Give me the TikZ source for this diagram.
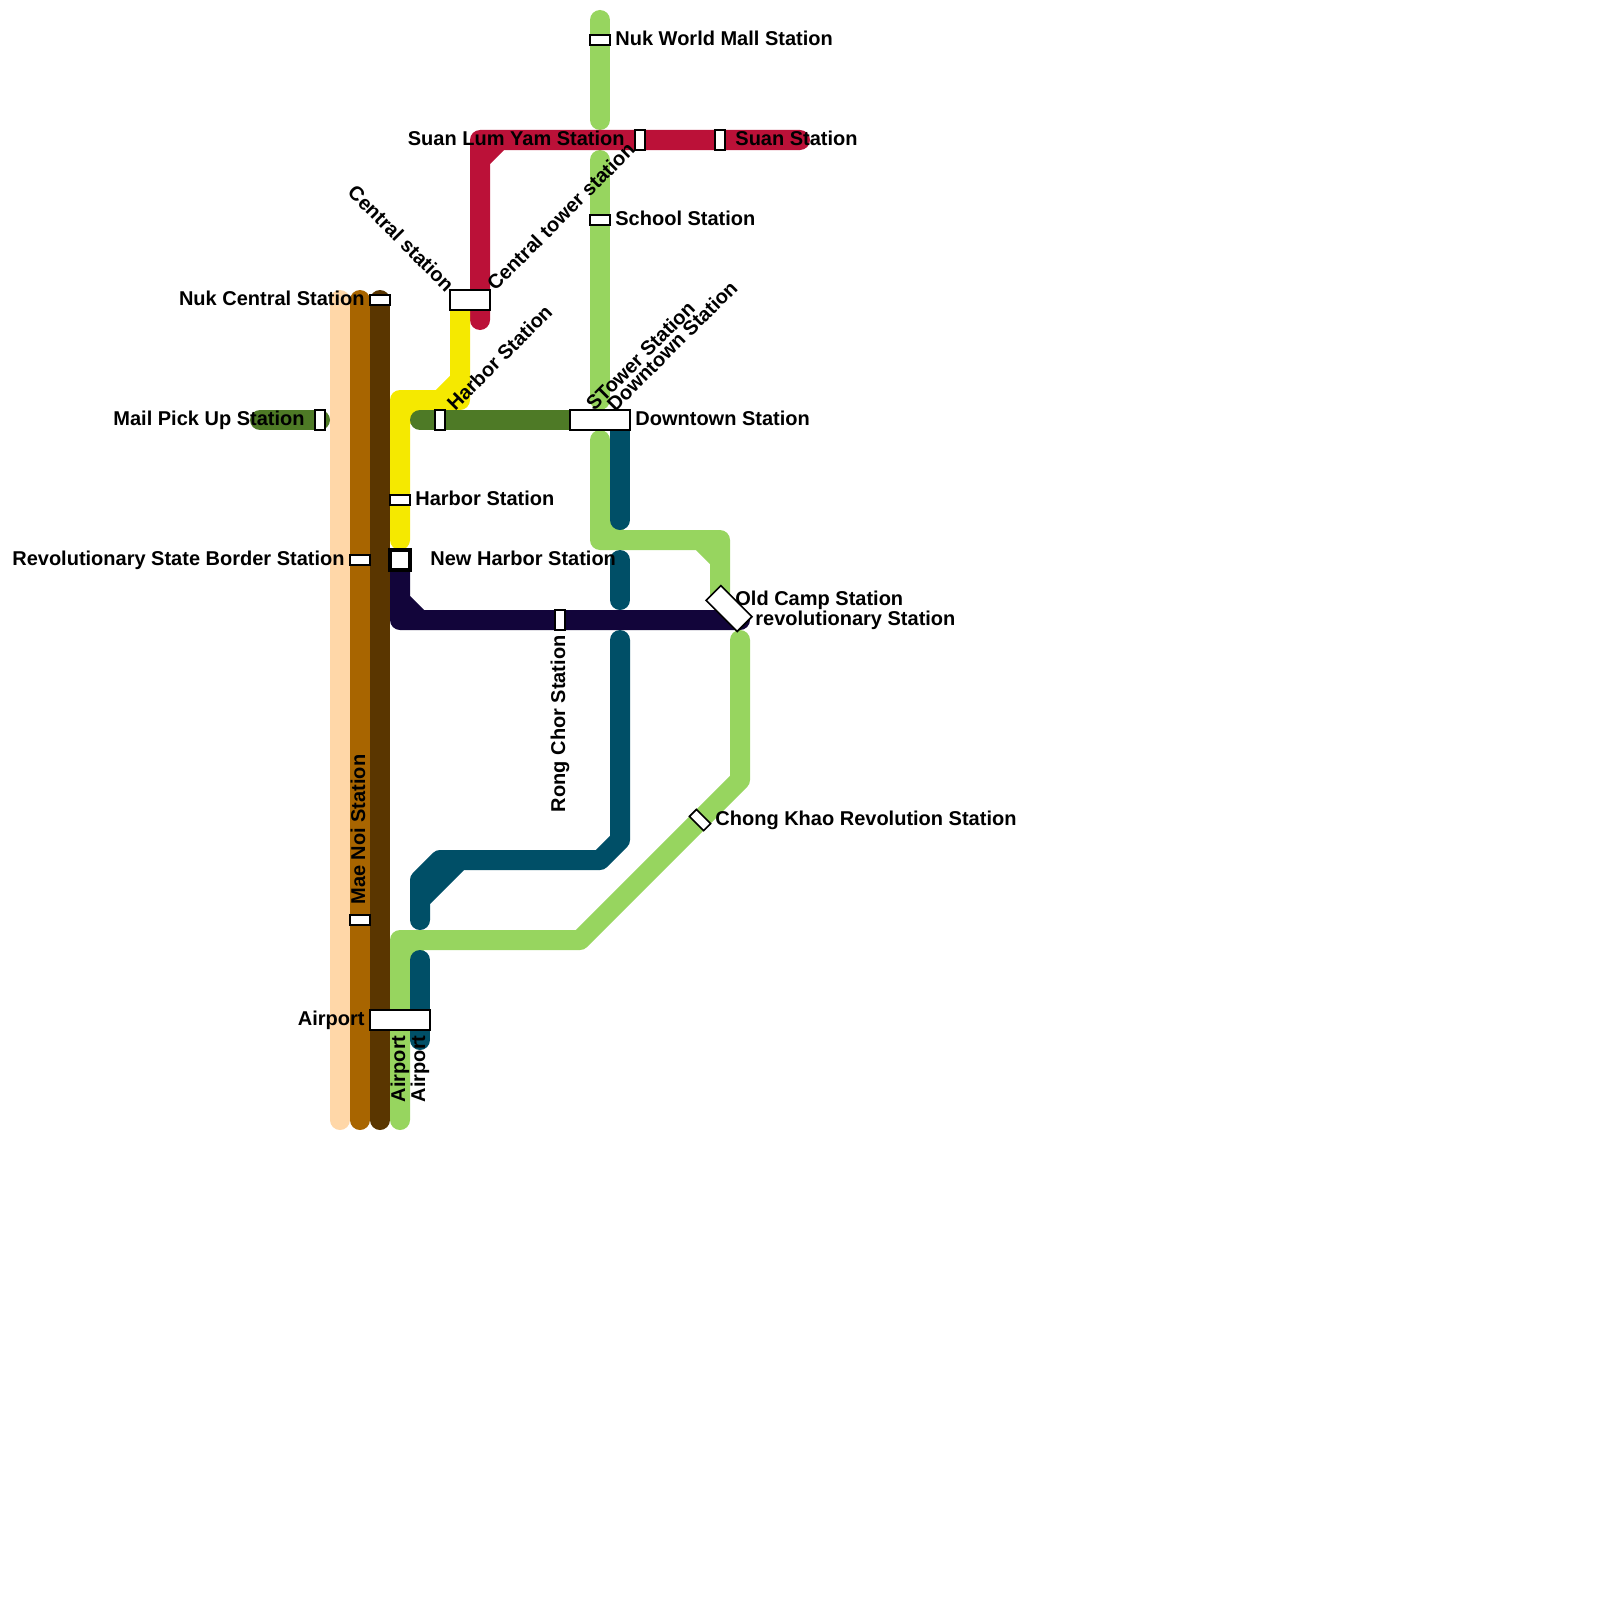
\documentclass[tikz,border=0pt]{standalone}
\usepackage{fontspec}
\usepackage{xcolor}
\usepackage{tikz}
\setmainfont{Liberation Sans}
\definecolor{linePeach}{HTML}{FFD7A8}
\definecolor{lineBrown}{HTML}{A86500}
\definecolor{lineUmber}{HTML}{5A3600}
\definecolor{lineLeaf}{HTML}{97D55F}
\definecolor{lineCrimson}{HTML}{BB1138}
\definecolor{lineMoss}{HTML}{4E7A26}
\definecolor{lineTeal}{HTML}{004F67}
\definecolor{lineYellow}{HTML}{F5E900}
\definecolor{lineNavy}{HTML}{12053A}
\tikzset{
  metroline/.style={line width=10pt, line cap=round, line join=round},
  stopbox/.style={rectangle, draw=black, fill=white, line width=.8pt,
    inner sep=0pt},
  stopflat/.style={stopbox, minimum width=10pt, minimum height=5pt},
  stoptall/.style={stopbox, minimum width=5pt, minimum height=10pt},
  stopwide/.style={stopbox, minimum width=20pt, minimum height=10pt},
  stoplong/.style={stopbox, minimum width=30pt, minimum height=10pt},
  stoplabel/.style={font=\bfseries\fontsize{10pt}{12pt}\selectfont,
    text=black, inner sep=0pt, text height=7.2pt, text depth=0pt},
}
\begin{document}
\begin{tikzpicture}[x=.5pt,y=-.5pt]
  \path[use as bounding box] (0,0) rectangle (1600,1600);

  % Three trunk lines running side by side.
  \foreach \x/\c in {340/linePeach,360/lineBrown,380/lineUmber}
    \draw[metroline,\c] (\x,300)--(\x,1120);

  % Leaf line, in four pieces.
  \draw[metroline,lineLeaf] (600,20)--(600,120);
  \draw[metroline,lineLeaf] (600,160)--(600,400);
  \draw[metroline,lineLeaf] (600,440)--(600,540)--(720,540)--(720,600)
    (600,520)--(620,540) (700,540)--(720,560);
  \draw[metroline,lineLeaf] (400,1120)--(400,940)--(580,940)--(740,780)--(740,640)
    (400,960)--(420,940);

  % Crimson and yellow lines meet at the central stop.
  \draw[metroline,lineCrimson] (480,320)--(480,140)--(800,140)
    (480,160)--(500,140);
  \draw[metroline,lineYellow] (460,300)--(460,400)--(400,400)--(400,540)
    (460,380)--(440,400) (420,400)--(400,420);

  % Moss line is broken by the trunk lines.
  \draw[metroline,lineMoss] (260,420)--(320,420);
  \draw[metroline,lineMoss] (420,420)--(600,420);

  % Navy line.
  \draw[metroline,lineNavy] (400,560)--(400,620)--(740,620)
    (400,600)--(420,620);

  % Teal line, cut where it passes under the others.
  \draw[metroline,lineTeal] (620,420)--(620,520);
  \draw[metroline,lineTeal] (620,560)--(620,600);
  \draw[metroline,lineTeal] (620,640)--(620,840)--(600,860)--(440,860)
    --(420,880)--(420,920) (420,900)--(460,860);
  \draw[metroline,lineTeal] (420,960)--(420,1040);

  % Stops.
  \node[stopflat] (nukWorld) at (600,40) {};
  \node[stoptall] (suanLum) at (640,140) {};
  \node[stoptall] (suan) at (720,140) {};
  \node[stopflat] (school) at (600,220) {};
  \node[stopwide] (central) at (470,300) {};
  \node[stopflat] (nukCentral) at (380,300) {};
  \node[stoptall] (mailPick) at (320,420) {};
  \node[stoptall] (harborTop) at (440,420) {};
  \node[stoplong] (downtown) at (600,420) {};
  \node[stopflat] (harbor) at (400,500) {};
  \node[stopbox,line width=1.75pt,minimum size=10pt] (newHarbor) at (400,560) {};
  \node[stopflat] (border) at (360,560) {};
  \node[stoptall] (rongChor) at (560,620) {};
  \node[stopwide,minimum width=22pt,minimum height=10.5pt,rotate=-45] (oldCamp) at (729,608.5) {};
  \node[stopflat,rotate=-45] (chongKhao) at (700,820) {};
  \node[stopflat] (maeNoi) at (360,920) {};
  \node[stoplong] (airport) at (400,1020) {};

  % Labels to the right of a stop.
  \node[stoplabel,anchor=west] (nukWorldText) at (615,38) {Nuk World Mall Station};
  \node[stoplabel,anchor=west] (suanText) at (735,138) {Suan Station};
  \node[stoplabel,anchor=west] (schoolText) at (615,218) {School Station};
  \node[stoplabel,anchor=west] (downtownText) at (635,418) {Downtown Station};
  \node[stoplabel,anchor=west] (harborText) at (415,498) {Harbor Station};
  \node[stoplabel,anchor=west] (newHarborText) at (430,558) {New Harbor Station};
  \node[stoplabel,anchor=west] (oldCampText) at (735,598) {Old Camp Station};
  \node[stoplabel,anchor=west] (revolutionText) at (755,618) {revolutionary Station};
  \node[stoplabel,anchor=west] (chongKhaoText) at (715,818) {Chong Khao Revolution Station};

  % Labels to the left of a stop.
  \node[stoplabel,anchor=east] (suanLumText) at (625,138) {Suan Lum Yam Station};
  \node[stoplabel,anchor=east] (nukCentralText) at (365,298) {Nuk Central Station};
  \node[stoplabel,anchor=east] (mailPickText) at (305,418) {Mail Pick Up Station};
  \node[stoplabel,anchor=east] (borderText) at (345,558) {Revolutionary State Border Station};
  \node[stoplabel,anchor=east] (airportText) at (365,1018) {Airport};

  % Upright and slanted labels.
  \node[stoplabel,anchor=west,rotate=90] (maeNoiText) at (358,905) {Mae Noi Station};
  \node[stoplabel,anchor=east,rotate=90] (rongChorText) at (558,635) {Rong Chor Station};
  \node[stoplabel,anchor=east,rotate=90] (airportTextA) at (398,1035) {Airport};
  \node[stoplabel,anchor=east,rotate=90] (airportTextB) at (418,1035) {Airport};
  \node[stoplabel,anchor=east,rotate=-45] (centralText) at (451,288) {Central station};
  \node[stoplabel,anchor=west,rotate=45] (towerText) at (490,287) {Central tower station};
  \node[stoplabel,anchor=west,rotate=45] (harborTopText) at (450,407) {Harbor Station};
  \node[stoplabel,anchor=west,rotate=45] (stowerText) at (589,407) {STower Station};
  \node[stoplabel,anchor=west,rotate=45] (downtownTopText) at (610,408) {Downtown Station};
\end{tikzpicture}
\end{document}
